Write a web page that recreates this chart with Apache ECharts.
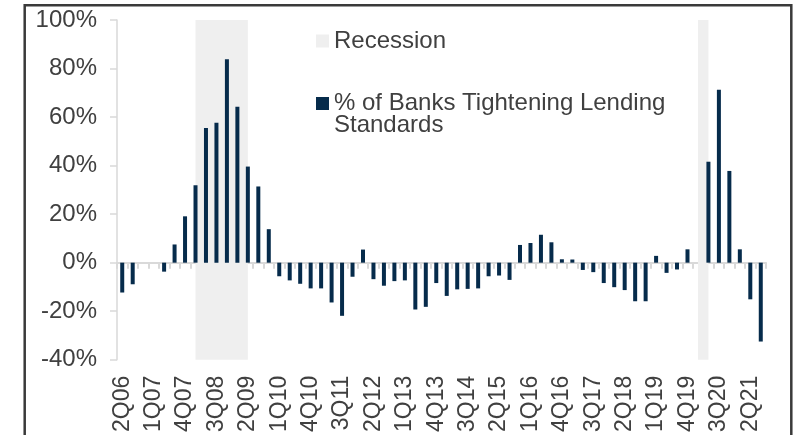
<!DOCTYPE html>
<html>
<head>
<meta charset="utf-8">
<script src="https://cdn.jsdelivr.net/npm/echarts@6/dist/echarts.min.js"></script>
<style>html,body{margin:0;padding:0;background:#fff}#c{width:800px;height:435px}</style>
</head>
<body>
<div id="c"></div>
<script>
const quarters = ['2Q06','3Q06','4Q06','1Q07','2Q07','3Q07','4Q07','1Q08','2Q08','3Q08','4Q08','1Q09','2Q09','3Q09','4Q09',
  '1Q10','2Q10','3Q10','4Q10','1Q11','2Q11','3Q11','4Q11','1Q12','2Q12','3Q12','4Q12','1Q13','2Q13','3Q13','4Q13',
  '1Q14','2Q14','3Q14','4Q14','1Q15','2Q15','3Q15','4Q15','1Q16','2Q16','3Q16','4Q16','1Q17','2Q17','3Q17','4Q17',
  '1Q18','2Q18','3Q18','4Q18','1Q19','2Q19','3Q19','4Q19','1Q20','2Q20','3Q20','4Q20','1Q21','2Q21','3Q21'];
const tightening = [-12.3,-8.9,0,0,-3.7,7.5,19.1,31.9,55.5,57.7,83.8,64.3,39.6,31.4,13.8,
  -5.6,-7.3,-8.7,-10.6,-10.6,-16.4,-21.9,-5.8,5.4,-6.8,-9.5,-7.6,-7.3,-19.3,-18.2,-8.4,
  -13.7,-11.0,-10.8,-10.6,-5.6,-5.3,-7.1,7.3,8.1,11.5,8.4,1.4,1.3,-3.0,-3.9,-8.4,
  -10.1,-11.3,-15.9,-15.9,2.8,-4.2,-2.8,5.5,0,41.6,71.3,37.8,5.5,-15.1,-32.5];
const recessions = [['1Q08','2Q09'],['1Q20','2Q20']];
const yTicks = {min:-40, max:100, interval:20};
const seriesNames = ['Recession','% of Banks Tightening Lending Standards'];

const txt = '#404040', axisGray = '#d9d9d9', navy = '#062b4b', shade = '#efefef';
const font = 'Liberation Sans, Arial, sans-serif';
const chart = echarts.init(document.getElementById('c'), null, {renderer:'canvas'});
chart.setOption({
  animation:false,
  textStyle:{fontFamily:font},
  grid:{left:117, right:34, top:20, bottom:75, containLabel:false},
  graphic:[{type:'rect', shape:{x:24.7, y:5.3, width:766.6, height:460}, style:{fill:'none', stroke:'#3a3a3a', lineWidth:2.5}, silent:true, z:100}],
  legend:[
    {data:[seriesNames[0]], left:316, top:29, padding:0, itemWidth:13, itemHeight:13, icon:'rect',
     textStyle:{color:txt, fontSize:24, fontFamily:font}},
    {data:[seriesNames[1]], left:316, top:69.5, padding:0, itemWidth:13, itemHeight:13, icon:'rect',
     formatter:function(n){return ' \n% of Banks Tightening Lending\nStandards';},
     textStyle:{color:txt, fontSize:24, lineHeight:22, fontFamily:font}}
  ],
  xAxis:[
    {type:'category', data:quarters, position:'bottom', axisLine:{show:false, onZero:false}, axisTick:{show:false},
     axisLabel:{interval:2, rotate:90, margin:16, color:txt, fontSize:23}},
    {type:'category', data:quarters, position:'bottom', axisLine:{show:true, onZero:true, lineStyle:{color:axisGray, width:2}},
     axisTick:{show:true, interval:0, length:6, lineStyle:{color:axisGray, width:2}}, axisLabel:{show:false}}
  ],
  yAxis:{type:'value', min:yTicks.min, max:yTicks.max, interval:yTicks.interval,
    axisLine:{show:true, lineStyle:{color:axisGray, width:1.5}}, axisTick:{show:true, length:7, lineStyle:{color:axisGray, width:1.5}},
    splitLine:{show:false}, axisLabel:{formatter:'{value}%', margin:20, color:txt, fontSize:24}},
  series:[
    {name:seriesNames[0], type:'line', xAxisIndex:0, data:[], color:shade, itemStyle:{color:shade}, lineStyle:{color:shade},
     markArea:{silent:true, itemStyle:{color:shade}, data:recessions.map(r=>[{xAxis:r[0]},{xAxis:r[1]}])}},
    {name:seriesNames[1], type:'bar', xAxisIndex:0, data:tightening, barWidth:4, itemStyle:{color:navy}, z:3}
  ]
});
</script>
</body>
</html>
